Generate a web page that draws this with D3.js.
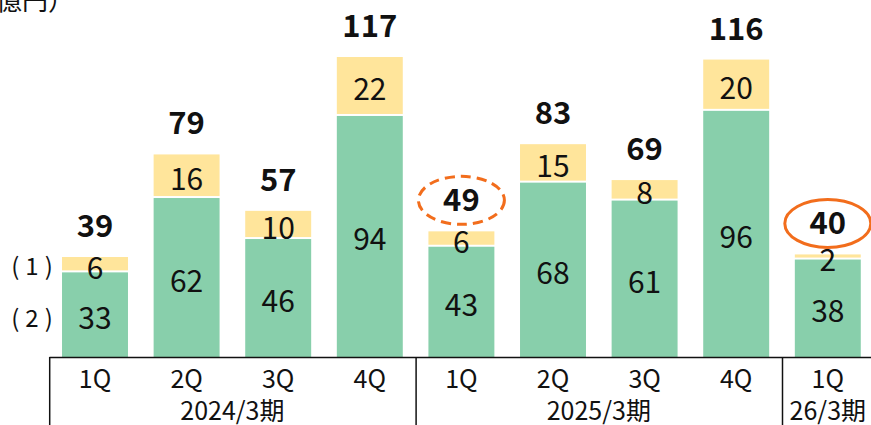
<!DOCTYPE html>
<html>
<head>
<meta charset="utf-8">
<script src="https://cdn.jsdelivr.net/npm/d3@7"></script>
<style>
  body { margin: 0; background: #fff; }
  svg { display: block; font-family: "Noto Sans CJK JP", "Noto Sans", sans-serif; }
</style>
</head>
<body>
<svg id="chart" width="871" height="425"></svg>
<script>
// quarterly values (億円)
const quarters = ["1Q", "2Q", "3Q", "4Q", "1Q", "2Q", "3Q", "4Q", "1Q"];
const series2 = [33, 62, 46, 94, 43, 68, 61, 96, 38]; // (2) green
const series1 = [6, 16, 10, 22, 6, 15, 8, 20, 2];     // (1) yellow
const totals = [39, 79, 57, 117, 49, 83, 69, 116, 40];
const years = [
  { label: "2024/3期", from: 0, to: 4 },
  { label: "2025/3期", from: 4, to: 8 },
  { label: "26/3期", from: 8, to: 9 }
];
const dashedMark = 4; // circled with dashed line
const solidMark = 8;  // circled with solid line

const green = "#88cfab";
const yellow = "#ffe59b";
const orange = "#f26d1c";

const svg = d3.select("#chart");
const baseY = 357;

const idx = quarters.map((d, i) => i);
const x = d3.scaleBand()
  .domain(idx)
  .range([49.2, 873.6])
  .paddingInner(0.28)
  .paddingOuter(0.14);

const y = d3.scaleLinear()
  .domain([0, 117])
  .range([baseY, 57]);

const cx = (i) => x(i) + x.bandwidth() / 2;

// bars
const g = svg.append("g");

g.selectAll(".bar2")
  .data(idx)
  .enter()
  .append("rect")
  .attr("x", (i) => x(i))
  .attr("y", (i) => y(series2[i]))
  .attr("width", x.bandwidth())
  .attr("height", (i) => baseY - y(series2[i]))
  .attr("fill", green);

g.selectAll(".bar1")
  .data(idx)
  .enter()
  .append("rect")
  .attr("x", (i) => x(i))
  .attr("y", (i) => y(totals[i]))
  .attr("width", x.bandwidth())
  .attr("height", (i) => Math.max(0, y(series2[i]) - y(totals[i]) - 2))
  .attr("fill", yellow);

// segment labels
g.selectAll(".lab2")
  .data(idx)
  .enter()
  .append("text")
  .attr("x", cx)
  .attr("y", (i) => (y(series2[i]) + baseY) / 2 + 1)
  .attr("text-anchor", "middle")
  .attr("dominant-baseline", "central")
  .style("font-size", "30px")
  .style("fill", "#111")
  .text((i) => series2[i]);

g.selectAll(".lab1")
  .data(idx)
  .enter()
  .append("text")
  .attr("x", cx)
  .attr("y", (i) => (y(totals[i]) + y(series2[i])) / 2 + 1)
  .attr("text-anchor", "middle")
  .attr("dominant-baseline", "central")
  .style("font-size", "30px")
  .style("fill", "#111")
  .text((i) => series1[i]);

// totals
g.selectAll(".tot")
  .data(idx)
  .enter()
  .append("text")
  .attr("x", cx)
  .attr("y", (i) => y(totals[i]) - 20)
  .attr("text-anchor", "middle")
  .style("font-size", "31px")
  .style("font-weight", "bold")
  .style("fill", "#111")
  .text((i) => totals[i]);

// ellipses around highlighted totals
svg.append("ellipse")
  .attr("cx", cx(dashedMark))
  .attr("cy", y(totals[dashedMark]) - 31)
  .attr("rx", 43)
  .attr("ry", 24)
  .attr("fill", "none")
  .attr("stroke", orange)
  .attr("stroke-width", 3)
  .attr("stroke-dasharray", "10,6");

svg.append("ellipse")
  .attr("cx", cx(solidMark))
  .attr("cy", y(totals[solidMark]) - 31)
  .attr("rx", 43)
  .attr("ry", 24)
  .attr("fill", "none")
  .attr("stroke", orange)
  .attr("stroke-width", 3);

// axis
const axis = svg.append("g").attr("transform", `translate(0,${baseY})`);
axis.append("line")
  .attr("x1", 49.5).attr("x2", 871)
  .attr("y1", 0.5).attr("y2", 0.5)
  .attr("stroke", "#111").attr("stroke-width", 1.5);

axis.selectAll(".sep")
  .data(years)
  .enter()
  .append("line")
  .attr("x1", (d) => x.step() * d.from + 49.2 + 0.5)
  .attr("x2", (d) => x.step() * d.from + 49.2 + 0.5)
  .attr("y1", 0)
  .attr("y2", 70)
  .attr("stroke", "#111")
  .attr("stroke-width", 1.5);

axis.selectAll(".q")
  .data(idx)
  .enter()
  .append("text")
  .attr("x", cx)
  .attr("y", 31)
  .attr("text-anchor", "middle")
  .style("font-size", "25px")
  .style("fill", "#111")
  .text((i) => quarters[i]);

axis.selectAll(".yr")
  .data(years)
  .enter()
  .append("text")
  .attr("x", (d) => (d.to === quarters.length ? cx(d.from) : 49.2 + x.step() * (d.from + d.to) / 2))
  .attr("y", 63)
  .attr("text-anchor", "middle")
  .style("font-size", "25px")
  .style("fill", "#111")
  .text((d) => d.label);

// legend labels at left
const legend = [
  { label: "(1)", y: (y(totals[0]) + y(series2[0])) / 2 },
  { label: "(2)", y: 316 }
];
svg.selectAll(".leg")
  .data(legend)
  .enter()
  .append("text")
  .attr("x", 35)
  .attr("y", (d) => d.y)
  .attr("text-anchor", "middle")
  .attr("dominant-baseline", "central")
  .style("font-size", "24px")
  .style("letter-spacing", "6px")
  .style("fill", "#111")
  .text((d) => d.label);

// unit label, partly cut at top-left
svg.append("text")
  .attr("x", 74).attr("y", 10)
  .attr("text-anchor", "end")
  .style("font-size", "26px")
  .style("fill", "#111")
  .text("（億円）");
</script>
</body>
</html>
